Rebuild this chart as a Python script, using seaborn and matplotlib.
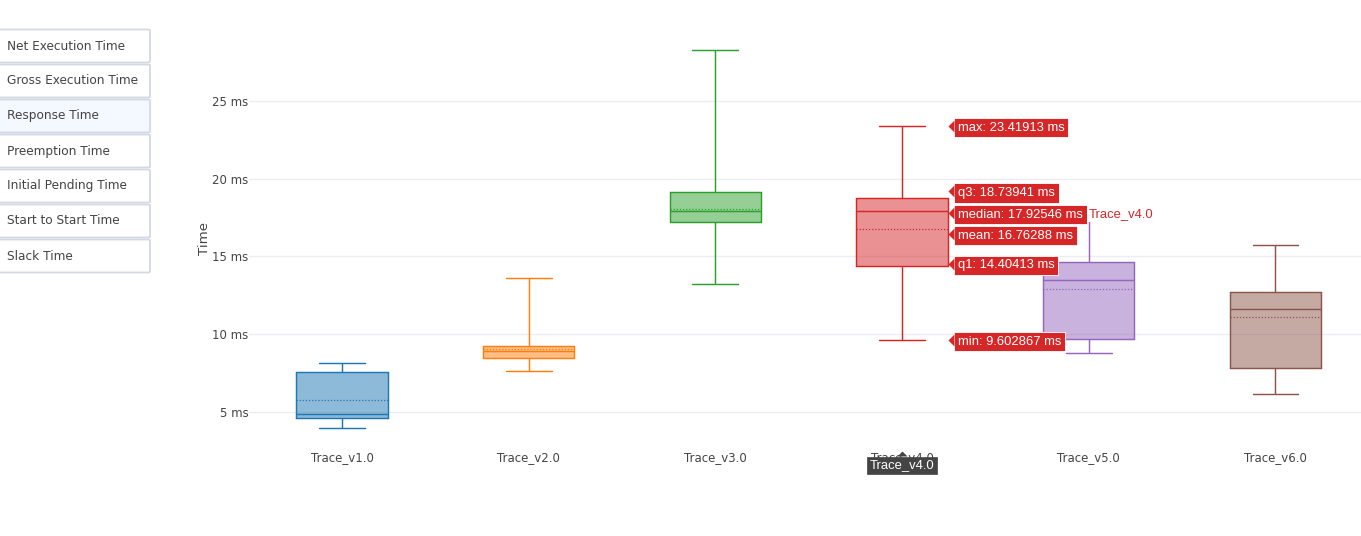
import numpy as np
import pandas as pd
import seaborn as sns
import matplotlib
matplotlib.use("Agg")
import matplotlib.pyplot as plt
from matplotlib.colors import to_rgba
from matplotlib.patches import FancyBboxPatch
from matplotlib.path import Path
from matplotlib.transforms import offset_copy, blended_transform_factory

# ---- data -------------------------------------------------------------
categories = ["Trace_v1.0", "Trace_v2.0", "Trace_v3.0", "Trace_v4.0", "Trace_v5.0", "Trace_v6.0"]
mins = [3.97, 7.62, 13.23, 9.602867, 8.82, 6.18]
q1s = [4.61, 8.49, 17.20, 14.40413, 9.67, 7.81]
medians = [4.89, 8.90, 17.90, 17.92546, 13.47, 11.60]
q3s = [7.59, 9.27, 19.17, 18.73941, 14.63, 12.70]
maxs = [8.13, 13.60, 28.28, 23.41913, 17.35, 15.74]
means = [5.75, 9.03, 18.08, 16.76288, 12.89, 11.09]

ytick_values = [5, 10, 15, 20, 25]
ytick_labels = ["5 ms", "10 ms", "15 ms", "20 ms", "25 ms"]

menu_items = ["Net Execution Time", "Gross Execution Time", "Response Time",
              "Preemption Time", "Initial Pending Time", "Start to Start Time", "Slack Time"]
active_item = "Response Time"

hover_trace = "Trace_v4.0"

colors = ["#1f77b4", "#ff7f0e", "#2ca02c", "#d62728", "#9467bd", "#8c564b"]

# ---- figure -----------------------------------------------------------
W, H = 1361, 536
sns.set_theme(style="white")
plt.rcParams["font.family"] = ["DejaVu Sans"]

fig = plt.figure(figsize=(W / 100, H / 100), dpi=100)
fig.patch.set_facecolor("white")

def px_x(x):
    return x / W

def px_y(y):
    return 1 - y / H

left_px, right_px, top_px, bottom_px = 248.7, 1368.7, 31, 447
ax = fig.add_axes([px_x(left_px), px_y(bottom_px),
                   (right_px - left_px) / W, (bottom_px - top_px) / H])
ax.set_facecolor("white")

# Five-number summaries as long-form rows; whis=(0, 100) maps min/max to whiskers
rows = []
for name, lo, a, m, b, hi in zip(categories, mins, q1s, medians, q3s, maxs):
    for v in (lo, a, m, b, hi):
        rows.append({"trace": name, "value": v})
df = pd.DataFrame(rows)

box_width = 0.49
for name, col in zip(categories, colors):
    sns.boxplot(data=df[df["trace"] == name], x="trace", y="value", order=categories,
                color=col, linecolor=col, linewidth=1.05, width=box_width,
                whis=(0, 100), saturation=1, fliersize=0, ax=ax)
    ax.patches[-1].set_facecolor(to_rgba(col, 0.5))
    ax.patches[-1].set_edgecolor(col)

# dotted mean lines
for i, (mu, col) in enumerate(zip(means, colors)):
    ax.hlines(mu, i - box_width / 2, i + box_width / 2, colors=col,
              linestyles=(0, (1, 1.5)), linewidth=0.9, zorder=5)

ax.set_xlim(-0.5, 5.5)
ax.set_ylim(2.75, 29.5)
ax.set_yticks(ytick_values)
ax.set_yticklabels(ytick_labels)
ax.set_xlabel("")
ax.set_ylabel("")
for s in ax.spines.values():
    s.set_visible(False)
ax.grid(axis="y", color="#ebedf2", linewidth=1)
ax.grid(axis="x", visible=False)
ax.set_axisbelow(True)
ax.tick_params(axis="both", length=0, labelsize=8.5, labelcolor="#444444")
ax.tick_params(axis="x", pad=3)
ax.tick_params(axis="y", pad=0)

fig.text(px_x(204), px_y(239), "Time", rotation=90, ha="center", va="center",
         fontsize=9.6, color="#444444")

# ---- hover labels on one trace ---------------------------------------
hover_font = ["Liberation Sans", "DejaVu Sans"]
tip_marker = Path([(0, 0), (1, -1), (1, 1), (0, 0)],
                  [Path.MOVETO, Path.LINETO, Path.LINETO, Path.CLOSEPOLY])

hi = categories.index(hover_trace)
hcol = colors[hi]
tip_x = hi + box_width / 2
hover_items = [
    ("max", maxs[hi], 0.5),
    ("q3", q3s[hi], -7.0),
    ("median", medians[hi], 2.0),
    ("mean", means[hi], 5.0),
    ("q1", q1s[hi], -1.8),
    ("min", mins[hi], -0.4),
]
for key, val, shift in hover_items:
    tr_tip = offset_copy(ax.transData, fig=fig, x=0, y=-shift, units="dots")
    ax.plot([tip_x], [val], marker=tip_marker, markersize=8.6, color=hcol,
            markeredgewidth=0, transform=tr_tip, clip_on=False, zorder=12)
    tr_txt = offset_copy(ax.transData, fig=fig, x=10, y=-shift, units="dots")
    label = f"{key}: {val:.7g} ms"
    ax.text(tip_x, val, label, transform=tr_txt, ha="left", va="center_baseline",
            color="white", fontsize=9.36, family=hover_font, zorder=11, clip_on=False,
            bbox=dict(boxstyle="square,pad=0.3", fc=hcol, ec="white", lw=0.6))
    if key == "median":
        tr_name = offset_copy(ax.transData, fig=fig, x=141, y=-shift, units="dots")
        ax.text(tip_x, val, hover_trace, transform=tr_name, ha="left", va="center_baseline",
                color=hcol, fontsize=9.36, family=hover_font, zorder=11, clip_on=False,
                bbox=dict(boxstyle="square,pad=0.15", fc="white", ec="none"))

# x spike label under the hovered category
bt = blended_transform_factory(ax.transData, ax.transAxes)
up_marker = Path([(0, 0), (-1, -1), (1, -1), (0, 0)],
                 [Path.MOVETO, Path.LINETO, Path.LINETO, Path.CLOSEPOLY])
ax.plot([hi], [0], marker=up_marker, markersize=7.2, color="#444444", markeredgewidth=0,
        transform=offset_copy(bt, fig=fig, x=0, y=-4, units="dots"),
        clip_on=False, zorder=12)
ax.text(hi, 0, hover_trace, transform=offset_copy(bt, fig=fig, x=0, y=-17, units="dots"),
        ha="center", va="center_baseline", color="white", fontsize=9.36, family=hover_font,
        zorder=12, clip_on=False,
        bbox=dict(boxstyle="square,pad=0.22", fc="#444444", ec="#444444", lw=0.5))

# ---- menu buttons -----------------------------------------------------
btn_top, btn_h, btn_step, btn_right = 29.5, 33, 35, 150
for i, item in enumerate(menu_items):
    y0 = btn_top + i * btn_step
    fc = "#f4f8ff" if item == active_item else "white"
    fig.add_artist(FancyBboxPatch((px_x(-6), px_y(y0 + btn_h)), (btn_right + 6) / W, btn_h / H,
                                  boxstyle="round,pad=0,rounding_size=0.002",
                                  transform=fig.transFigure, fc=fc, ec="#d3d8e3", lw=1.3))
    fig.text(px_x(7), px_y(y0 + btn_h / 2), item, ha="left", va="center",
             fontsize=8.7, color="#444444")

fig.savefig("out.png", dpi=100)
